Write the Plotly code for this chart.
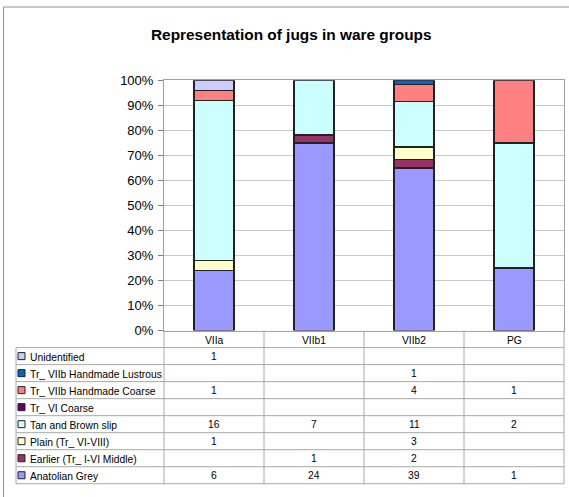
import plotly.graph_objects as go

categories = ["VIIa", "VIIb1", "VIIb2", "PG"]
series_names = [
    "Unidentified",
    "Tr_ VIIb Handmade Lustrous",
    "Tr_ VIIb Handmade Coarse",
    "Tr_ VI Coarse",
    "Tan and Brown slip",
    "Plain (Tr_ VI-VIII)",
    "Earlier (Tr_ I-VI Middle)",
    "Anatolian Grey",
]
unidentified = [1, None, None, None]
lustrous = [None, None, 1, None]
handmade_coarse = [1, None, 4, 1]
vi_coarse = [None, None, None, None]
tan_brown = [16, 7, 11, 2]
plain = [1, None, 3, None]
earlier = [None, 1, 2, None]
anatolian = [6, 24, 39, 1]
series_values = [unidentified, lustrous, handmade_coarse, vi_coarse,
                 tan_brown, plain, earlier, anatolian]
colors = ["#CCCCFF", "#0066CC", "#FF8080", "#660066",
          "#CCFFFF", "#FFFFCC", "#993366", "#9999FF"]
y_ticks = list(range(0, 101, 10))

W, H = 569, 497
# vertical correction for how the page is photographed
VS = (H + 16) / H
VOFF = 8
def px(x):
    return min(max(x / W, 0), 1)
def py(y):
    return min(max(1 - (y * VS - VOFF) / H, 0), 1)

fig = go.Figure()
for name, vals, col in reversed(list(zip(series_names, series_values, colors))):
    fig.add_trace(go.Bar(
        x=categories, y=vals, name=name,
        marker=dict(color=col, line=dict(color="#222222", width=1.3)),
        width=0.4, showlegend=False,
    ))

plot_l, plot_r, plot_t, plot_b = 164, 564, 81, 331
col_w = (plot_r - plot_l) / 4
fig.update_layout(
    width=W, height=H, autosize=False,
    margin=dict(l=0, r=0, t=0, b=0),
    paper_bgcolor="white", plot_bgcolor="white",
    barmode="stack", barnorm="percent",
    font=dict(family="Liberation Sans, Arial, sans-serif", color="#000000"),
    xaxis=dict(domain=[px(plot_l), px(plot_r)], showticklabels=False,
               showline=True, linecolor="#A0A0A0", mirror=True,
               showgrid=False, ticks="", zeroline=False),
    yaxis=dict(domain=[py(plot_b), py(plot_t)], range=[0, 100],
               tickvals=y_ticks, ticktext=[f"{v}%" for v in y_ticks],
               tickfont=dict(size=13), showline=True, linecolor="#A0A0A0",
               mirror=True, showgrid=True, gridcolor="#C8C8C8",
               ticks="outside", ticklen=5, tickcolor="#808080",
               ticklabelstandoff=2, zeroline=False),
)

shapes = []
annotations = []
shapes.append(dict(type="rect", xref="paper", yref="paper",
                   x0=px(3.5), x1=1.5, y0=-0.5, y1=py(7.5),
                   line=dict(color="#909090", width=1), fillcolor="rgba(0,0,0,0)",
                   layer="below"))
annotations.append(dict(text="<b>Representation of jugs in ware groups</b>",
                        x=px(291), y=py(35.5), xref="paper", yref="paper",
                        showarrow=False, font=dict(size=15.4),
                        xanchor="center", yanchor="middle"))

grid_col = "#A8A8A8"
col_edges = [plot_l + col_w * i for i in range(5)]
row_h = 17
hdr_top, hdr_bot = 331, 348
table_bot = hdr_bot + row_h * len(series_names)
leg_l = 16

def line(x0, y0, x1, y1):
    shapes.append(dict(type="line", xref="paper", yref="paper",
                       x0=px(x0), y0=py(y0), x1=px(x1), y1=py(y1),
                       line=dict(color=grid_col, width=1)))

for xe in col_edges:
    line(xe, hdr_top, xe, table_bot)
for i in range(len(series_names) + 1):
    yy = hdr_bot + row_h * i
    line(leg_l, yy, col_edges[-1], yy)
line(leg_l, hdr_bot, leg_l, table_bot)

tf = 10.3
for i, c in enumerate(categories):
    annotations.append(dict(text=c, x=px(col_edges[i] + col_w / 2), y=py((hdr_top + hdr_bot) / 2 + 1),
                            xref="paper", yref="paper", showarrow=False,
                            font=dict(size=tf), xanchor="center", yanchor="middle"))

for r, (name, vals, col) in enumerate(zip(series_names, series_values, colors)):
    yc = hdr_bot + row_h * r + row_h / 2
    shapes.append(dict(type="rect", xref="paper", yref="paper",
                       x0=px(18), x1=px(25), y0=py(yc + 3.5), y1=py(yc - 3.5),
                       fillcolor=col, line=dict(color="#222222", width=1)))
    annotations.append(dict(text=name, x=px(28), y=py(yc + 1), xref="paper", yref="paper",
                            showarrow=False, font=dict(size=tf),
                            xanchor="left", yanchor="middle"))
    for i, v in enumerate(vals):
        if v is None:
            continue
        annotations.append(dict(text=str(v), x=px(col_edges[i] + col_w / 2), y=py(yc),
                                xref="paper", yref="paper", showarrow=False,
                                font=dict(size=tf), xanchor="center", yanchor="middle"))

fig.update_layout(shapes=shapes, annotations=annotations)

fig.write_html("out.html", config={"displayModeBar": False},
               post_script="document.body.style.margin='0';document.body.style.overflow='hidden';")
